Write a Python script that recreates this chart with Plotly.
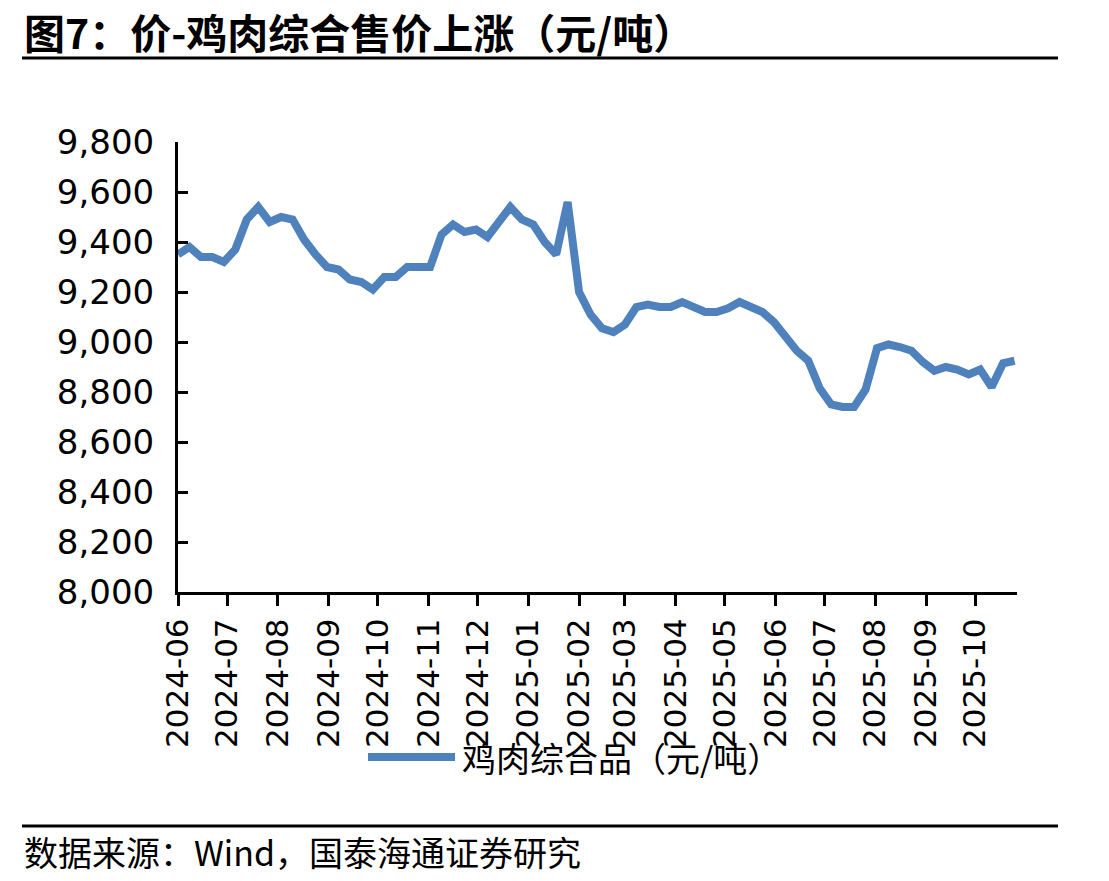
import plotly.graph_objects as go

dates = [
    "2024-06-01", "2024-06-08", "2024-06-15", "2024-06-22", "2024-06-29",
    "2024-07-06", "2024-07-13", "2024-07-20", "2024-07-27", "2024-08-03",
    "2024-08-10", "2024-08-17", "2024-08-24", "2024-08-31", "2024-09-07",
    "2024-09-14", "2024-09-21", "2024-09-28", "2024-10-05", "2024-10-12",
    "2024-10-19", "2024-10-26", "2024-11-02", "2024-11-09", "2024-11-16",
    "2024-11-23", "2024-11-30", "2024-12-07", "2024-12-14", "2024-12-21",
    "2024-12-28", "2025-01-04", "2025-01-11", "2025-01-18", "2025-01-25",
    "2025-02-01", "2025-02-08", "2025-02-15", "2025-02-22", "2025-03-01",
    "2025-03-08", "2025-03-15", "2025-03-22", "2025-03-29", "2025-04-05",
    "2025-04-12", "2025-04-19", "2025-04-26", "2025-05-03", "2025-05-10",
    "2025-05-17", "2025-05-24", "2025-05-31", "2025-06-07", "2025-06-14",
    "2025-06-21", "2025-06-28", "2025-07-05", "2025-07-12", "2025-07-19",
    "2025-07-26", "2025-08-02", "2025-08-09", "2025-08-16", "2025-08-23",
    "2025-08-30", "2025-09-06", "2025-09-13", "2025-09-20", "2025-09-27",
    "2025-10-04", "2025-10-11", "2025-10-18", "2025-10-25",
]

chicken_price = [
    9350, 9380, 9340, 9340, 9320, 9370, 9490, 9540, 9480, 9500,
    9490, 9410, 9350, 9300, 9290, 9250, 9240, 9210, 9260, 9260,
    9300, 9300, 9300, 9430, 9470, 9440, 9450, 9420, 9480, 9540,
    9490, 9470, 9400, 9350, 9560, 9200, 9110, 9055, 9040, 9070,
    9140, 9150, 9140, 9140, 9160, 9140, 9120, 9120, 9135, 9160,
    9140, 9120, 9080, 9025, 8965, 8925, 8815, 8750, 8740, 8740,
    8810, 8975, 8990, 8980, 8965, 8920, 8885, 8900, 8890, 8870,
    8890, 8820, 8915, 8925,
]

series_name = "鸡肉综合品（元/吨）"
title_text = "图7：价-鸡肉综合售价上涨（元/吨）"
source_text = "数据来源：Wind，国泰海通证券研究"

LINE_COLOR = "#4F81BD"
CJK = "Noto Sans CJK SC"
NUM = "DejaVu Sans"

# pixel -> paper helpers (plot area 178..1017 x 142..592)
L, R, T, B = 178, 1017, 142, 592
def px(x):
    return (x - L) / (R - L)
def py(y):
    return (B - y) / (B - T)

fig = go.Figure()
fig.add_trace(go.Scatter(
    x=dates, y=chicken_price, mode="lines", name=series_name,
    line=dict(color=LINE_COLOR, width=8), showlegend=False,
))

fig.update_layout(
    width=1109, height=881,
    margin=dict(l=L, r=1109 - R, t=T, b=881 - B, pad=0),
    paper_bgcolor="white", plot_bgcolor="white",
    font=dict(family=NUM, color="black"),
)

fig.update_xaxes(
    type="date",
    range=["2024-06-01", "2025-10-26 12:00"],
    tick0="2024-06-01", dtick="M1", tickformat="%Y-%m",
    tickangle=-90, ticks="outside", ticklen=11, tickwidth=3, tickcolor="black",
    showline=True, linewidth=3, linecolor="black",
    showgrid=False, zeroline=False,
    tickfont=dict(family=NUM, size=31, color="black"),
)
fig.update_yaxes(
    range=[8000, 9800], dtick=200, tick0=8000, tickformat=",d",
    ticks="inside", ticklen=10, tickwidth=3, tickcolor="black",
    showline=True, linewidth=3, linecolor="black",
    showgrid=False, zeroline=False,
    tickfont=dict(family=NUM, size=34, color="black"),
    ticklabelstandoff=14,
)

shapes = [
    dict(type="line", xref="paper", yref="paper", x0=px(22), x1=px(1058), y0=py(58), y1=py(58),
         line=dict(color="black", width=3)),
    dict(type="line", xref="paper", yref="paper", x0=px(22), x1=px(1058), y0=py(826), y1=py(826),
         line=dict(color="black", width=3)),
    dict(type="line", xref="paper", yref="paper", x0=px(368), x1=px(455), y0=py(757), y1=py(757),
         line=dict(color=LINE_COLOR, width=8)),
]
fig.update_layout(shapes=shapes)

fig.add_annotation(xref="paper", yref="paper", x=px(22), y=py(31), xanchor="left", yanchor="middle",
                   text="<b>" + title_text + "</b>", showarrow=False,
                   font=dict(family=CJK, size=41, color="black"))
fig.add_annotation(xref="paper", yref="paper", x=px(460), y=py(757), xanchor="left", yanchor="middle",
                   text=series_name, showarrow=False,
                   font=dict(family=CJK, size=34, color="black"))
fig.add_annotation(xref="paper", yref="paper", x=px(22), y=py(851), xanchor="left", yanchor="middle",
                   text=source_text, showarrow=False,
                   font=dict(family=CJK, size=34, color="black"))

fig.write_html("out.html")
